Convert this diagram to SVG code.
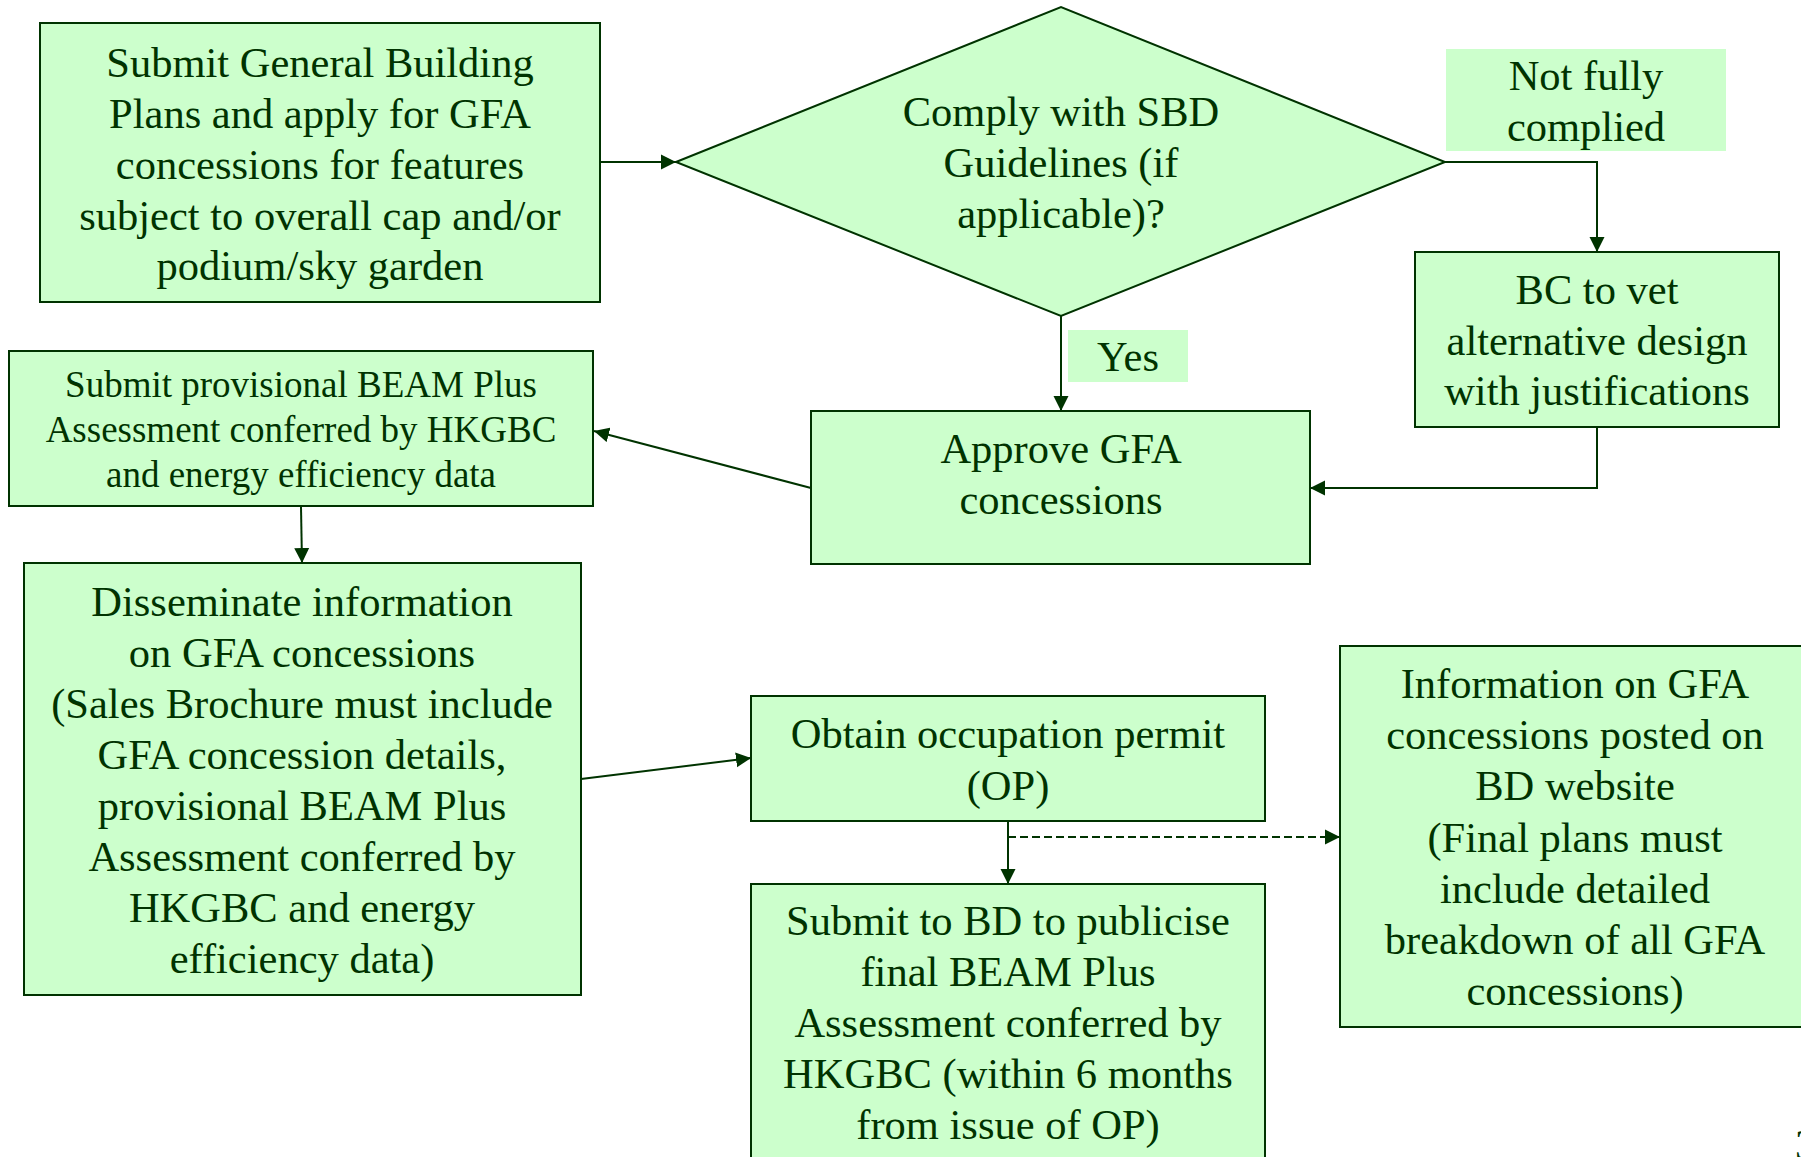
<svg xmlns="http://www.w3.org/2000/svg" width="1801" height="1157" viewBox="0 0 1801 1157">
<style>
.box{fill:#CCFFCC;stroke:#003300;stroke-width:2}
.lbl{fill:#CCFFCC;stroke:none}
.t{font-family:"Liberation Serif","Times New Roman",serif;font-size:42.5px;fill:#003300;text-anchor:middle}
.s{font-size:37px}
.c{fill:none;stroke:#003300;stroke-width:2}
.d{stroke-dasharray:8 4;stroke-width:1.8}
</style>
<defs>
<marker id="ah" markerUnits="userSpaceOnUse" markerWidth="16" markerHeight="16" viewBox="0 0 16 16" refX="15" refY="8" orient="auto">
<path d="M0,0.5 L15,8 L0,15.5 Z" fill="#003300"/>
</marker>
</defs>
<rect width="1801" height="1157" fill="#FFFFFF"/>
<g id="connectors">
<line class="c" x1="600" y1="162" x2="676" y2="162" marker-end="url(#ah)"/>
<polyline class="c" points="1445,162 1597,162 1597,252" marker-end="url(#ah)"/>
<line class="c" x1="1061" y1="316" x2="1061" y2="411" marker-end="url(#ah)"/>
<polyline class="c" points="1597,427 1597,488 1310,488" marker-end="url(#ah)"/>
<line class="c" x1="811" y1="488" x2="594" y2="431" marker-end="url(#ah)"/>
<line class="c" x1="301" y1="507" x2="302" y2="563" marker-end="url(#ah)"/>
<line class="c" x1="581" y1="779" x2="751" y2="758" marker-end="url(#ah)"/>
<line class="c" x1="1008" y1="821" x2="1008" y2="884" marker-end="url(#ah)"/>
<line class="c d" x1="1008" y1="837" x2="1340" y2="837" marker-end="url(#ah)"/>
</g>
<g id="n-submit-gbp">
<rect class="box" x="40" y="23" width="560" height="279"/>
<text class="t"><tspan x="320" y="77">Submit General Building</tspan><tspan x="320" y="128">Plans and apply for GFA</tspan><tspan x="320" y="179">concessions for features</tspan><tspan x="320" y="230">subject to overall cap and/or</tspan><tspan x="320" y="280">podium/sky garden</tspan></text>
</g>
<g id="n-comply">
<polygon class="box" points="676,162 1061,7 1445,162 1061,316"/>
<text class="t"><tspan x="1061" y="126">Comply with SBD</tspan><tspan x="1061" y="177">Guidelines (if</tspan><tspan x="1061" y="228">applicable)?</tspan></text>
</g>
<g id="l-notfully">
<rect class="lbl" x="1446" y="49" width="280" height="102"/>
<text class="t"><tspan x="1586" y="90">Not fully</tspan><tspan x="1586" y="141">complied</tspan></text>
</g>
<g id="n-bc">
<rect class="box" x="1415" y="252" width="364" height="175"/>
<text class="t"><tspan x="1597" y="304">BC to vet</tspan><tspan x="1597" y="355">alternative design</tspan><tspan x="1597" y="405">with justifications</tspan></text>
</g>
<g id="l-yes">
<rect class="lbl" x="1068" y="330" width="120" height="52"/>
<text class="t" x="1128" y="371">Yes</text>
</g>
<g id="n-approve">
<rect class="box" x="811" y="411" width="499" height="153"/>
<text class="t"><tspan x="1061" y="463">Approve GFA</tspan><tspan x="1061" y="514">concessions</tspan></text>
</g>
<g id="n-provisional">
<rect class="box" x="9" y="351" width="584" height="155"/>
<text class="t s"><tspan x="301" y="397">Submit provisional BEAM Plus</tspan><tspan x="301" y="442">Assessment conferred by HKGBC</tspan><tspan x="301" y="487">and energy efficiency data</tspan></text>
</g>
<g id="n-disseminate">
<rect class="box" x="24" y="563" width="557" height="432"/>
<text class="t"><tspan x="302" y="616">Disseminate information</tspan><tspan x="302" y="667">on GFA concessions</tspan><tspan x="302" y="718">(Sales Brochure must include</tspan><tspan x="302" y="769">GFA concession details,</tspan><tspan x="302" y="820">provisional BEAM Plus</tspan><tspan x="302" y="871">Assessment conferred by</tspan><tspan x="302" y="922">HKGBC and energy</tspan><tspan x="302" y="973">efficiency data)</tspan></text>
</g>
<g id="n-op">
<rect class="box" x="751" y="696" width="514" height="125"/>
<text class="t"><tspan x="1008" y="748">Obtain occupation permit</tspan><tspan x="1008" y="800">(OP)</tspan></text>
</g>
<g id="n-publicise">
<rect class="box" x="751" y="884" width="514" height="290"/>
<text class="t"><tspan x="1008" y="935">Submit to BD to publicise</tspan><tspan x="1008" y="986">final BEAM Plus</tspan><tspan x="1008" y="1037">Assessment conferred by</tspan><tspan x="1008" y="1088">HKGBC (within 6 months</tspan><tspan x="1008" y="1139">from issue of OP)</tspan></text>
</g>
<g id="n-info">
<rect class="box" x="1340" y="646" width="480" height="381"/>
<text class="t"><tspan x="1575" y="698">Information on GFA</tspan><tspan x="1575" y="749">concessions posted on</tspan><tspan x="1575" y="800">BD website</tspan><tspan x="1575" y="852">(Final plans must</tspan><tspan x="1575" y="903">include detailed</tspan><tspan x="1575" y="954">breakdown of all GFA</tspan><tspan x="1575" y="1005">concessions)</tspan></text>
</g>
<text class="t" x="1795" y="1159" style="text-anchor:start">3</text>
</svg>
